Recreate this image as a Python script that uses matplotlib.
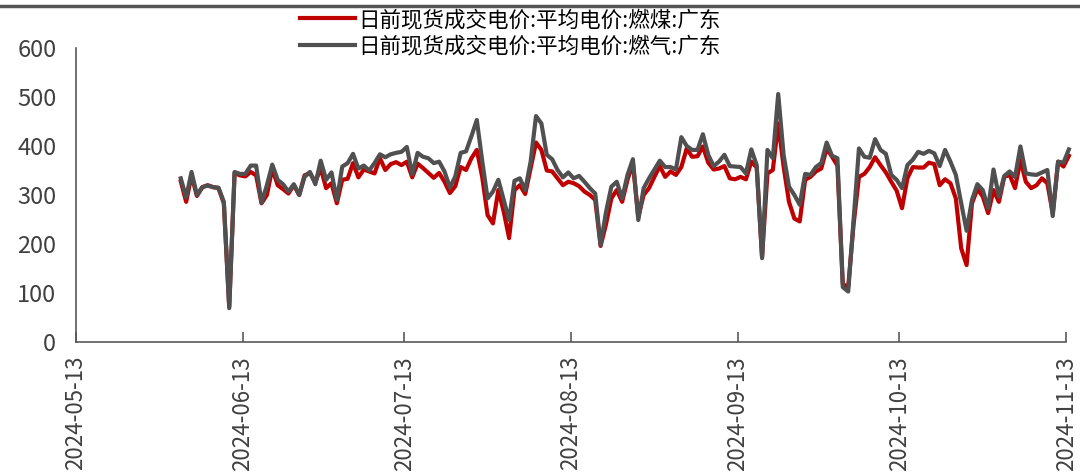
import matplotlib
matplotlib.use("Agg")
import matplotlib.pyplot as plt
import matplotlib.dates as mdates
import pandas as pd

plt.rcParams['font.family'] = ['Noto Sans CJK SC', 'DejaVu Sans']

# daily day-ahead spot prices, Guangdong (元/MWh), 2024-06-01 .. 2024-11-13
# plotted at midday of each trading day
dates = pd.date_range("2024-06-01 12:00", "2024-11-13 12:00", freq="D")

coal = [328, 286, 340, 298, 316, 320, 316, 314, 283, 72,
        345, 340, 338, 347, 340, 283, 300, 354, 320, 312,
        303, 320, 300, 340, 345, 326, 355, 314, 324, 283,
        331, 333, 365, 336, 352, 348, 344, 375, 351, 363,
        367, 361, 368, 336, 364, 355, 345, 335, 345, 327,
        304, 318, 357, 351, 375, 392, 337, 259, 242, 310,
        266, 212, 310, 320, 302, 354, 407, 392, 350, 348,
        334, 320, 327, 324, 318, 307, 300, 290, 196, 240,
        293, 310, 286, 331, 365, 255, 300, 314, 337, 359,
        337, 348, 341, 357, 395, 378, 379, 399, 366, 352,
        354, 359, 334, 332, 337, 332, 368, 356, 174, 344,
        351, 446, 358, 286, 252, 246, 331, 337, 348, 354,
        395, 378, 360, 118, 112, 240, 337, 343, 357, 377,
        361, 346, 327, 309, 273, 334, 357, 356, 356, 366,
        363, 320, 332, 324, 293, 191, 157, 283, 312, 297,
        263, 310, 286, 337, 341, 314, 371, 327, 314, 320,
        334, 324, 263, 368, 358, 380]

gas = [334, 295, 347, 300, 316, 319, 316, 315, 286, 69,
       347, 343, 343, 360, 360, 284, 320, 362, 331, 322,
       307, 322, 300, 337, 347, 322, 370, 331, 346, 290,
       358, 365, 384, 354, 360, 350, 365, 383, 377, 383,
       386, 388, 398, 342, 386, 378, 375, 365, 368, 348,
       315, 338, 386, 389, 420, 453, 370, 293, 307, 331,
       290, 249, 329, 334, 310, 368, 461, 446, 382, 373,
       351, 336, 346, 334, 339, 327, 314, 303, 198, 265,
       317, 327, 293, 341, 373, 249, 314, 334, 352, 370,
       357, 357, 352, 418, 400, 392, 392, 424, 382, 359,
       368, 382, 359, 358, 357, 344, 393, 361, 171, 392,
       375, 506, 382, 317, 300, 280, 343, 341, 357, 365,
       407, 380, 375, 112, 103, 250, 395, 378, 376, 414,
       392, 384, 341, 331, 314, 361, 372, 388, 384, 390,
       385, 359, 392, 368, 341, 283, 227, 290, 322, 310,
       273, 352, 297, 339, 348, 337, 399, 344, 342, 341,
       346, 351, 257, 368, 366, 393]

names = ["日前现货成交电价:平均电价:燃煤:广东", "日前现货成交电价:平均电价:燃气:广东"]

fig = plt.figure(figsize=(10.8, 4.75), dpi=100)
ax = fig.add_axes([0.0702, 0.28, 0.917, 0.619])

ax.plot(dates, coal, color="#C00000", lw=3.0, label=names[0], clip_on=False)
ax.plot(dates, gas, color="#505050", lw=3.0, label=names[1], clip_on=False)

ax.set_xlim(pd.Timestamp("2024-05-13"), pd.Timestamp("2024-11-13"))
ax.set_ylim(0, 600)
ax.set_yticks(range(0, 601, 100))
ax.xaxis.set_major_locator(mdates.MonthLocator(bymonthday=13))
ax.xaxis.set_major_formatter(mdates.DateFormatter("%Y-%m-%d"))

for s in ["top", "right"]:
    ax.spines[s].set_visible(False)
for s in ["left", "bottom"]:
    ax.spines[s].set_color("#595959")
    ax.spines[s].set_linewidth(1.2)

ax.tick_params(axis="x", direction="in", length=7, width=1.2, color="#595959",
               labelsize=16, labelcolor="#404040", rotation=90, pad=10)
ax.tick_params(axis="y", direction="in", length=0, labelsize=17,
               labelcolor="#404040", pad=14)

fig.legend(loc="upper left", bbox_to_anchor=(300 / 1080, 1 - 9 / 475),
           frameon=False, fontsize=15.5, handlelength=2.55, handletextpad=0.15,
           labelspacing=0.2, borderpad=0, borderaxespad=0)

# rule across the top of the page
fig.add_artist(plt.Line2D([0, 1], [1 - 6 / 475, 1 - 6 / 475],
                          transform=fig.transFigure, color="#555555", lw=2.5))

fig.savefig("out.png", dpi=100)
